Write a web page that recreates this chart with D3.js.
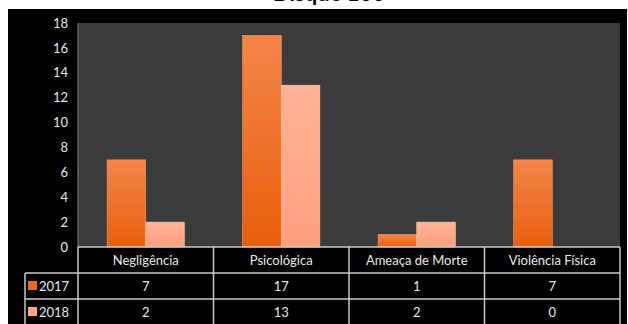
<!DOCTYPE html>
<html>
<head>
<meta charset="utf-8">
<script src="https://cdn.jsdelivr.net/npm/d3@7"></script>
<style>
  body { margin: 0; background: #fff; }
  svg { display: block; font-family: Lato, "Noto Sans", sans-serif; }
</style>
</head>
<body>
<div class="graph"></div>
<script>
// data
const categories = ["Negligência", "Psicológica", "Ameaça de Morte", "Violência Física"];
const series = ["2017", "2018"];
const values2017 = [7, 17, 1, 7];
const values2018 = [2, 13, 2, 0];
const yTicks = [0, 2, 4, 6, 8, 10, 12, 14, 16, 18];

const W = 628, H = 324;
const PLOT = {LEFT: 78, RIGHT: 620, TOP: 23, BOTTOM: 247};
const ROW = 26;
const COLORS = {"2017": "url(#g2017)", "2018": "url(#g2018)"};
const SWATCH = {"2017": "#ec6a1c", "2018": "#ffa888"};
const valuesBy = {"2017": values2017, "2018": values2018};

const svg = d3.select(".graph").append("svg")
    .attr("width", W)
    .attr("height", H);

// gradients for the bars
const defs = svg.append("defs");
function grad(id, top, bottom) {
    const g = defs.append("linearGradient").attr("id", id)
        .attr("x1", 0).attr("y1", 0).attr("x2", 0).attr("y2", 1);
    g.append("stop").attr("offset", "0%").attr("stop-color", top);
    g.append("stop").attr("offset", "100%").attr("stop-color", bottom);
}
grad("g2017", "#f4854a", "#e85f0c");
grad("g2018", "#ffb497", "#ff9f7e");

// title (mostly cut off at the top, as in the source)
svg.append("text")
    .attr("x", 329).attr("y", 1)
    .attr("text-anchor", "middle")
    .attr("font-size", 22).attr("font-weight", "bold")
    .attr("fill", "#000")
    .text("Disque 100");

// black background
svg.append("rect")
    .attr("x", 8).attr("y", 9)
    .attr("width", 619).attr("height", H - 9)
    .attr("fill", "#000");

// plot area
svg.append("rect")
    .attr("x", PLOT.LEFT).attr("y", PLOT.TOP)
    .attr("width", PLOT.RIGHT - PLOT.LEFT).attr("height", PLOT.BOTTOM - PLOT.TOP)
    .attr("fill", "#3b3b3b");

svg.append("line")
    .attr("x1", PLOT.LEFT).attr("x2", PLOT.LEFT)
    .attr("y1", PLOT.TOP).attr("y2", PLOT.BOTTOM)
    .attr("stroke", "#808080").attr("stroke-width", 1);

// scales
const x = d3.scaleBand()
    .domain(categories)
    .range([PLOT.LEFT, PLOT.RIGHT]);

const bw = x.bandwidth();
const x1 = d3.scaleBand()
    .domain(series)
    .range([bw * 0.215, bw * 0.785]);

const y = d3.scaleLinear()
    .domain([0, 18])
    .range([PLOT.BOTTOM, PLOT.TOP]);

// y axis
const yAxis = svg.append("g")
    .attr("transform", `translate(${PLOT.LEFT - 6}, 0)`)
    .call(d3.axisLeft(y).tickValues(yTicks).tickSize(0).tickPadding(4));
yAxis.select(".domain").remove();
yAxis.selectAll("text")
    .attr("fill", "#e8e8e8")
    .attr("font-size", 13)
    .attr("font-family", "Lato, 'Noto Sans', sans-serif");

// bars
const groups = svg.append("g").selectAll("g")
    .data(categories)
    .enter().append("g")
    .attr("transform", d => `translate(${x(d)}, 0)`);

series.forEach(s => {
    groups.append("rect")
        .attr("x", x1(s))
        .attr("width", x1.bandwidth())
        .attr("y", (d, i) => y(valuesBy[s][i]))
        .attr("height", (d, i) => y(0) - y(valuesBy[s][i]))
        .attr("fill", COLORS[s])
        .attr("stroke", s === "2017" ? "#f79a64" : "#ffc7b0")
        .attr("stroke-width", 0.6);
});

// data table
const table = svg.append("g");
const lineCol = "#c8c8c8";
const TOP = PLOT.BOTTOM;
const LEG = 25;

// horizontal lines
table.append("line").attr("x1", PLOT.LEFT).attr("x2", PLOT.RIGHT)
    .attr("y1", TOP).attr("y2", TOP);
[1, 2].forEach(r => {
    table.append("line").attr("x1", LEG).attr("x2", PLOT.RIGHT)
        .attr("y1", TOP + ROW * r).attr("y2", TOP + ROW * r);
});
// vertical lines
table.append("line").attr("x1", LEG).attr("x2", LEG)
    .attr("y1", TOP + ROW).attr("y2", H);
categories.forEach(c => {
    table.append("line").attr("x1", x(c)).attr("x2", x(c))
        .attr("y1", TOP).attr("y2", H);
});
table.append("line").attr("x1", PLOT.RIGHT).attr("x2", PLOT.RIGHT)
    .attr("y1", TOP).attr("y2", H);
table.selectAll("line").attr("stroke", lineCol).attr("stroke-width", 1.5);

// header labels
table.selectAll(".cat")
    .data(categories)
    .enter().append("text")
    .attr("class", "cat")
    .attr("x", d => x(d) + bw / 2)
    .attr("y", TOP + ROW / 2 + 5)
    .attr("text-anchor", "middle")
    .attr("font-size", 13)
    .attr("fill", "#e8e8e8")
    .text(d => d);

// value rows
series.forEach((s, r) => {
    const cy = TOP + ROW * (r + 1) + ROW / 2;
    table.append("rect")
        .attr("x", LEG + 3).attr("y", cy - 5)
        .attr("width", 9).attr("height", 9)
        .attr("fill", SWATCH[s]);
    table.append("text")
        .attr("x", LEG + 14).attr("y", cy + 5)
        .attr("font-size", 13).attr("fill", "#e8e8e8")
        .text(s);
    table.selectAll(".v" + s)
        .data(valuesBy[s])
        .enter().append("text")
        .attr("x", (d, i) => x(categories[i]) + bw / 2)
        .attr("y", cy + 5)
        .attr("text-anchor", "middle")
        .attr("font-size", 13)
        .attr("fill", "#e8e8e8")
        .text(d => d);
});
</script>
</body>
</html>
